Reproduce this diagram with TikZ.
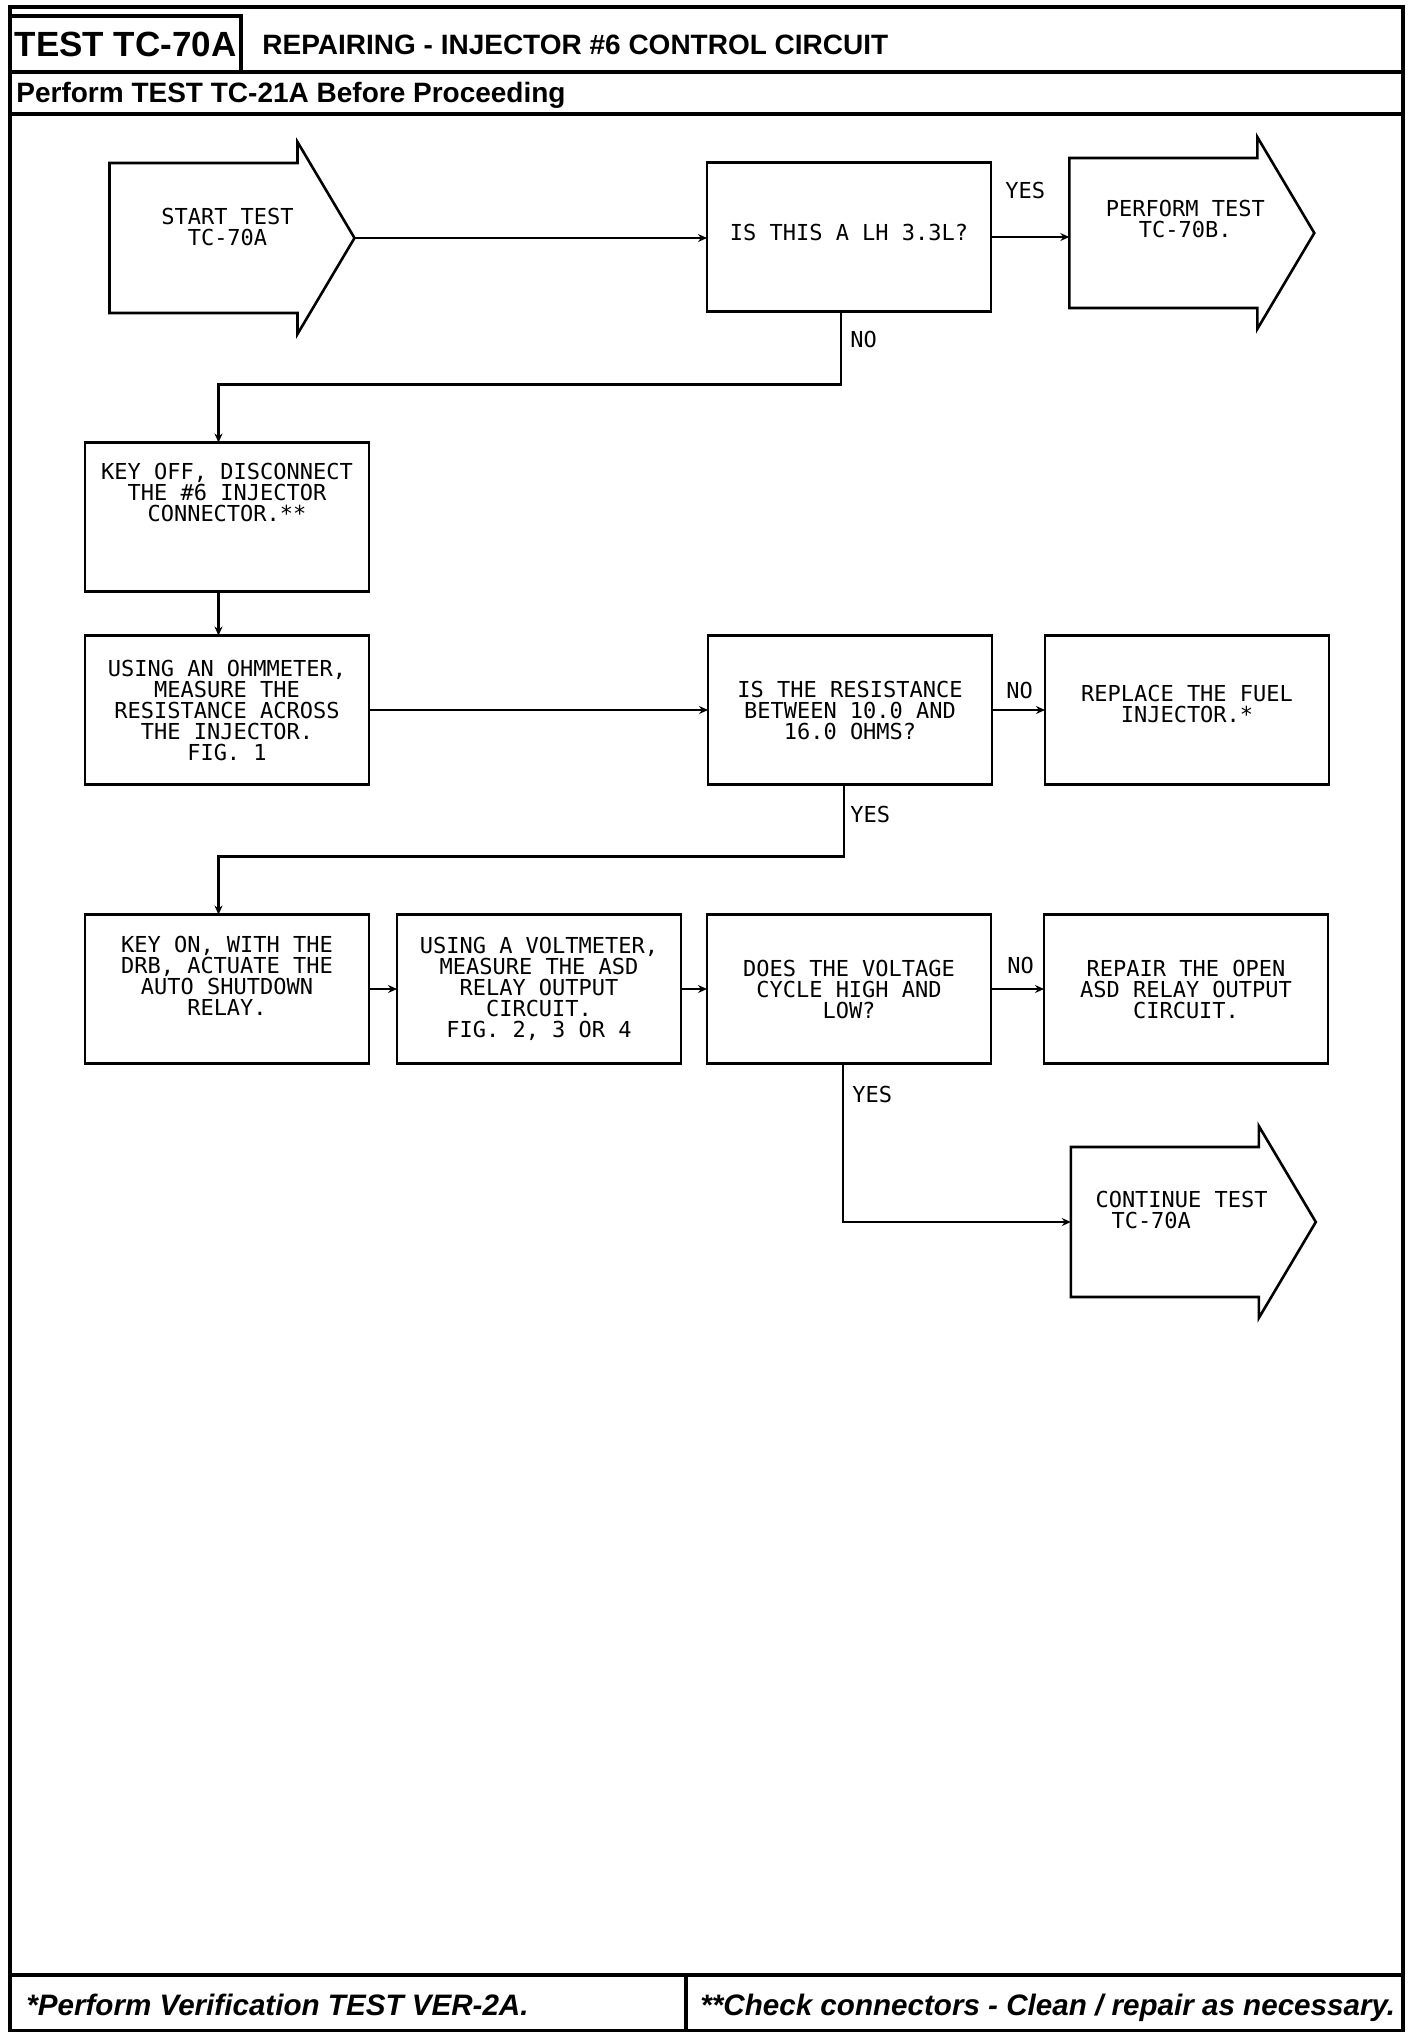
\documentclass[tikz,border=0pt]{standalone}
\usepackage{fontspec}
\setmainfont{Liberation Sans}
\newfontfamily\plotfont{DejaVu Sans Mono}
\usetikzlibrary{positioning,arrows.meta}

% outline of a test arrow drawn round its body node
\newcommand\testarrow[1]{%
	\draw[shapeline] (#1.north west) -- (#1.north east) -- ++(0pt,10.5pt)
		-- ([xshift=28.5pt]#1.east) coordinate (#1 tip)
		-- ([yshift=-10.5pt]#1.south east) -- (#1.south east)
		-- (#1.south west) -- cycle;}

\tikzset{
	pageframe/.style={line width=1.8pt},
	titlebox/.style={draw, line width=1.8pt, minimum width=115.5pt, minimum height=28pt, inner sep=0pt, font=\bfseries\fontsize{17.5}{20}\selectfont},
	headtext/.style={inner sep=0pt, font=\bfseries\fontsize{14}{16}\selectfont},
	foottext/.style={inner sep=0pt, anchor=base west, font=\bfseries\itshape\fontsize{14.8}{16}\selectfont},
	stepbox/.style={draw, line width=1.3pt, minimum width=142pt, minimum height=74.5pt, inner sep=0pt, outer sep=0pt, align=center, font=\plotfont\fontsize{11}{10.5}\selectfont},
	arrowbody/.style={minimum width=94pt, minimum height=75pt, inner sep=0pt, outer sep=0pt},
	arrowtext/.style={inner sep=0pt, align=center, font=\plotfont\fontsize{11}{10.5}\selectfont},
	shapeline/.style={line width=1.3pt, line join=miter},
	answer/.style={inner sep=0pt, anchor=base west, font=\plotfont\fontsize{11}{10.5}\selectfont},
	flow/.style={line width=1.2pt, -{Stealth[length=4.5pt,width=4pt]}}
}

\begin{document}
\begin{tikzpicture}[x=1pt, y=-1pt]
	\useasboundingbox (0,0) rectangle (712,1018);

	% page frame, heading and footnotes
	\draw[pageframe] (5,3.5) rectangle (701.5,1015.3);
	\draw[pageframe] (5,36) -- (701.5,36);
	\draw[pageframe] (5,57) -- (701.5,57);
	\draw[pageframe] (5,987.5) -- (701.5,987.5);
	\draw[pageframe] (343,987.5) -- (343,1015.3);
	\node (title) [titlebox] at (62.75,22) {TEST TC-70A};
	\node (heading) [headtext, anchor=west] at (131,22.5) {REPAIRING - INJECTOR \#6 CONTROL CIRCUIT};
	\node (before) [headtext, anchor=base west] at (8,51) {Perform TEST TC-21A Before Proceeding};
	\node (note1) [foottext] at (13,1007.5) {*Perform Verification TEST VER-2A.};
	\node (note2) [foottext] at (350,1007.5) {**Check connectors - Clean / repair as necessary.};

	% steps
	\node (start) [arrowbody] at (101.75,119) {};
	\testarrow{start}
	\node (start text) [arrowtext] at ([xshift=12pt,yshift=5.7pt]start.center) {START TEST\\TC-70A};
	\node (is3) [stepbox, text depth=5pt] at (424.5,118.5) {IS THIS A LH 3.3L?};
	\node (perform) [arrowbody] at (581.65,116.5) {};
	\testarrow{perform}
	\node (perform text) [arrowtext] at ([xshift=11pt,yshift=7pt]perform.center) {PERFORM TEST\\TC-70B.};

	\node (keyoff) [stepbox, text depth=25pt] at (113.5,258.5) {KEY OFF, DISCONNECT\\THE \#6 INJECTOR\\CONNECTOR.**};
	\node (ohm) [stepbox, below=22pt of keyoff] {USING AN OHMMETER,\\MEASURE THE\\RESISTANCE ACROSS\\THE INJECTOR.\\FIG. 1};
	\node (resist) [stepbox, right=169.5pt of ohm] {IS THE RESISTANCE\\BETWEEN 10.0 AND\\16.0 OHMS?};
	\node (replace) [stepbox, right=26.5pt of resist, text depth=6pt] {REPLACE THE FUEL\\INJECTOR.*};

	\node (keyon) [stepbox, text depth=13pt] at (113.5,494.5) {KEY ON, WITH THE\\DRB, ACTUATE THE\\AUTO SHUTDOWN\\RELAY.};
	\node (volt) [stepbox, right=14pt of keyon] {USING A VOLTMETER,\\MEASURE THE ASD\\RELAY OUTPUT\\CIRCUIT.\\FIG. 2, 3 OR 4};
	\node (does) [stepbox, right=13pt of volt] {DOES THE VOLTAGE\\CYCLE HIGH AND\\LOW?};
	\node (repair) [stepbox, right=26.5pt of does] {REPAIR THE OPEN\\ASD RELAY OUTPUT\\CIRCUIT.};

	\node (cont) [arrowbody] at (582.4,611) {};
	\testarrow{cont}
	\node (cont text) [arrowtext, align=left] at ([xshift=8.4pt,yshift=6.2pt]cont.center) {CONTINUE TEST\\\hspace*{8pt}TC-70A};

	% connectors
	\draw[flow] (start tip) -- (start tip -| is3.west);
	\draw[flow] (is3.east) -- (is3.east -| perform.west);
	\draw[flow] ([xshift=-4pt]is3.south) -- ++(0pt,-36.5pt) -| ([xshift=-4.25pt]keyoff.north);
	\draw[flow] ([xshift=-4.25pt]keyoff.south) -- ([xshift=-4.25pt]ohm.north);
	\draw[flow] (ohm) -- (resist);
	\draw[flow] (resist) -- (replace);
	\draw[flow] ([xshift=-3pt]resist.south) -- ++(0pt,-36pt) -| ([xshift=-4.25pt]keyon.north);
	\draw[flow] (keyon) -- (volt);
	\draw[flow] (volt) -- (does);
	\draw[flow] (does) -- (repair);
	\draw[flow] ([xshift=-3pt]does.south) |- (cont.west);

	\node (yes1) [answer] at (502.5,99) {YES};
	\node (no1) [answer] at (425,173.5) {NO};
	\node (no2) [answer] at (503,349) {NO};
	\node (yes2) [answer] at (425,411) {YES};
	\node (no3) [answer] at (503.5,486.5) {NO};
	\node (yes3) [answer] at (426,551) {YES};
\end{tikzpicture}
\end{document}
